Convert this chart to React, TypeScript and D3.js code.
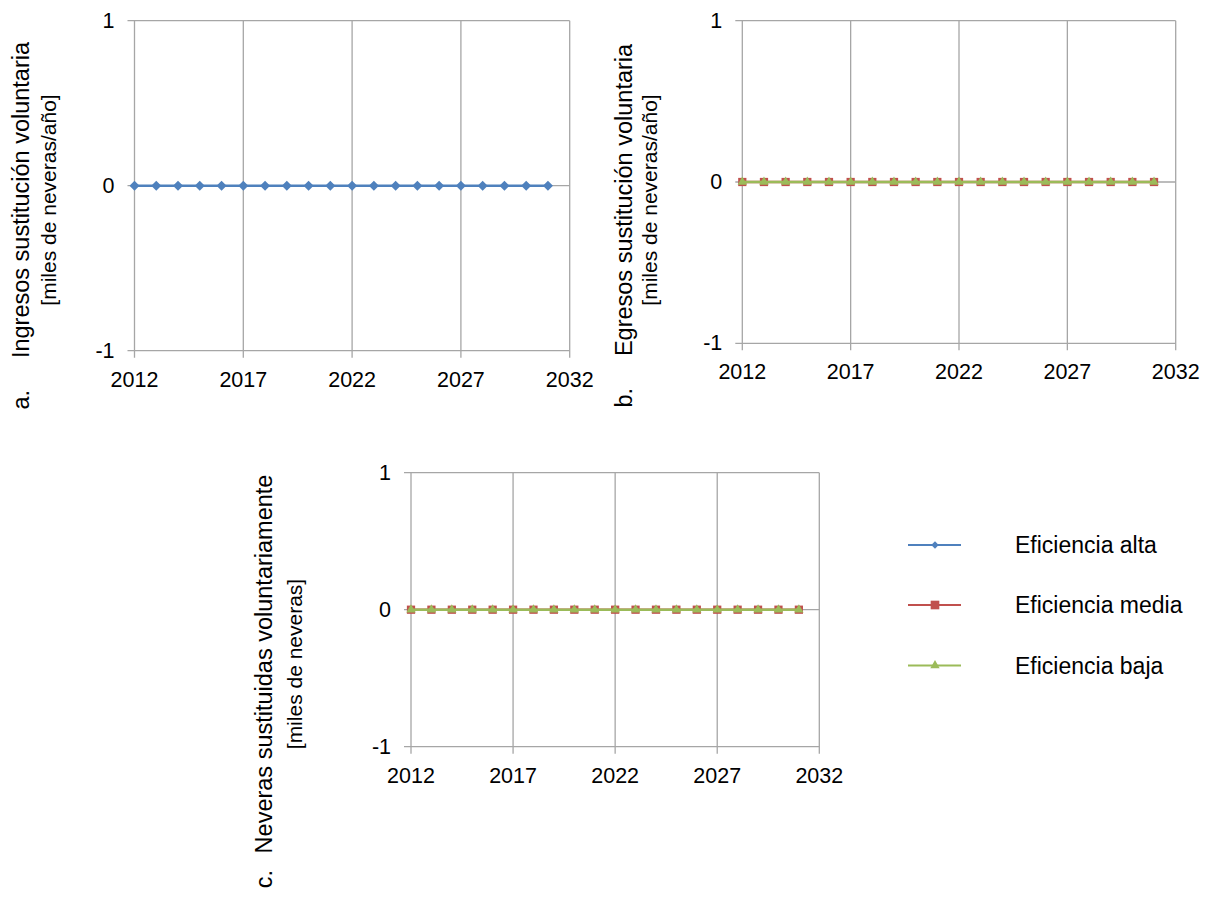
import React from "react";
import * as d3 from "d3";

// ---------- data ----------
const years = [2012, 2013, 2014, 2015, 2016, 2017, 2018, 2019, 2020, 2021, 2022, 2023, 2024, 2025, 2026, 2027, 2028, 2029, 2030, 2031];
const xTickValues = [2012, 2017, 2022, 2027, 2032];
const yTickValues = [-1, 0, 1];

// chart a: Ingresos sustitución voluntaria
const ingresosAlta = [0, 0, 0, 0, 0, 0, 0, 0, 0, 0, 0, 0, 0, 0, 0, 0, 0, 0, 0, 0];
// chart b: Egresos sustitución voluntaria
const egresosMedia = [0, 0, 0, 0, 0, 0, 0, 0, 0, 0, 0, 0, 0, 0, 0, 0, 0, 0, 0, 0];
const egresosBaja = [0, 0, 0, 0, 0, 0, 0, 0, 0, 0, 0, 0, 0, 0, 0, 0, 0, 0, 0, 0];
// chart c: Neveras sustituidas voluntariamente
const neverasMedia = [0, 0, 0, 0, 0, 0, 0, 0, 0, 0, 0, 0, 0, 0, 0, 0, 0, 0, 0, 0];
const neverasBaja = [0, 0, 0, 0, 0, 0, 0, 0, 0, 0, 0, 0, 0, 0, 0, 0, 0, 0, 0, 0];

const seriesNames = ["Eficiencia alta", "Eficiencia media", "Eficiencia baja"];

// ---------- styles ----------
const FONT = "'Liberation Sans', Arial, Helvetica, sans-serif";
const GRID = "#a6a6a6";
const COLORS: Record<string, string> = {
  alta: "#4f81bd",
  media: "#c0504d",
  baja: "#9bbb59",
};

type Kind = "alta" | "media" | "baja";
type Series = { kind: Kind; values: number[] };

function markerPath(kind: Kind, scale = 1): string {
  if (kind === "alta") return d3.symbol(d3.symbolSquare, 50 * scale)() as string;
  if (kind === "media") return d3.symbol(d3.symbolSquare, 68 * scale)() as string;
  return d3.symbol(d3.symbolTriangle, 38 * scale)() as string;
}

function Marker({ kind, x, y, scale = 1 }: { kind: Kind; x: number; y: number; scale?: number }) {
  const rot = kind === "alta" ? " rotate(45)" : "";
  return <path d={markerPath(kind, scale)} transform={`translate(${x},${y})${rot}`} fill={COLORS[kind]} />;
}

type ChartProps = {
  left: number;
  right: number;
  top: number;
  bottom: number;
  series: Series[];
  title: string;
  subtitle: string;
  titleX: number;
  subtitleX: number;
  titleY: number;
  letter: string;
  letterY: number;
};

function Chart(p: ChartProps) {
  const x = d3.scaleLinear().domain([2012, 2032]).range([p.left, p.right]);
  const y = d3.scaleLinear().domain([-1, 1]).range([p.bottom, p.top]);
  const line = d3
    .line<number>()
    .x((_, i) => x(years[i]))
    .y((d) => y(d));
  return (
    <g>
      {xTickValues.map((t) => (
        <line key={"vx" + t} x1={x(t)} x2={x(t)} y1={p.top} y2={p.bottom + 7} stroke={GRID} strokeWidth={1.3} />
      ))}
      {yTickValues.map((t) => (
        <line key={"hy" + t} x1={p.left - 7} x2={p.right} y1={y(t)} y2={y(t)} stroke={GRID} strokeWidth={1.3} />
      ))}
      {yTickValues.map((t) => (
        <text key={"ly" + t} x={p.left - 20} y={y(t)} textAnchor="end" dominantBaseline="central" fontSize={21.5} fontFamily={FONT} fill="#000">
          {t}
        </text>
      ))}
      {xTickValues.map((t) => (
        <text key={"lx" + t} x={x(t)} y={p.bottom + 29} textAnchor="middle" dominantBaseline="central" fontSize={21.5} fontFamily={FONT} fill="#000">
          {t}
        </text>
      ))}
      {p.series.map((s) => (
        <g key={s.kind}>
          <path d={line(s.values) as string} fill="none" stroke={COLORS[s.kind]} strokeWidth={2.6} />
          {s.values.map((v, i) => (
            <Marker key={i} kind={s.kind} x={x(years[i])} y={y(v)} />
          ))}
        </g>
      ))}
      <text transform={`translate(${p.titleX},${p.titleY}) rotate(-90)`} textAnchor="middle" fontSize={23.5} fontFamily={FONT} fill="#000">
        {p.title}
      </text>
      <text transform={`translate(${p.subtitleX},${p.titleY}) rotate(-90)`} textAnchor="middle" fontSize={21} fontFamily={FONT} fill="#000">
        {p.subtitle}
      </text>
      <text transform={`translate(${p.titleX},${p.letterY}) rotate(-90)`} textAnchor="end" fontSize={23.5} fontFamily={FONT} fill="#000">
        {p.letter}
      </text>
    </g>
  );
}

function Legend() {
  const kinds: Kind[] = ["alta", "media", "baja"];
  const ys = [545, 605, 665.5];
  return (
    <g>
      {kinds.map((k, i) => (
        <g key={k}>
          <line x1={908} x2={961} y1={ys[i]} y2={ys[i]} stroke={COLORS[k]} strokeWidth={2} />
          <Marker kind={k} x={935} y={ys[i]} scale={k === "alta" ? 0.55 : k === "media" ? 1.1 : 1} />
          <text x={1015} y={ys[i]} dominantBaseline="central" fontSize={23} fontFamily={FONT} fill="#000">
            {seriesNames[i]}
          </text>
        </g>
      ))}
    </g>
  );
}

export default function App() {
  return (
    <svg width={1212} height={909} style={{ position: "absolute", left: 0, top: 0, background: "#fff" }}>
      <rect width={1212} height={909} fill="#fff" />
      <Chart
        left={134.5}
        right={569.7}
        top={20.7}
        bottom={350.7}
        series={[{ kind: "alta", values: ingresosAlta }]}
        title="Ingresos sustitución voluntaria"
        subtitle="[miles de neveras/año]"
        titleX={28.5}
        subtitleX={55.5}
        titleY={200}
        letter="a."
        letterY={390}
      />
      <Chart
        left={742.3}
        right={1175.7}
        top={20.7}
        bottom={343.3}
        series={[
          { kind: "media", values: egresosMedia },
          { kind: "baja", values: egresosBaja },
        ]}
        title="Egresos sustitución voluntaria"
        subtitle="[miles de neveras/año]"
        titleX={632}
        subtitleX={657}
        titleY={200}
        letter="b."
        letterY={388}
      />
      <Chart
        left={411}
        right={819.3}
        top={472.7}
        bottom={746.7}
        series={[
          { kind: "media", values: neverasMedia },
          { kind: "baja", values: neverasBaja },
        ]}
        title="Neveras sustituidas voluntariamente"
        subtitle="[miles de neveras]"
        titleX={272}
        subtitleX={302}
        titleY={664}
        letter="c."
        letterY={870}
      />
      <Legend />
    </svg>
  );
}
